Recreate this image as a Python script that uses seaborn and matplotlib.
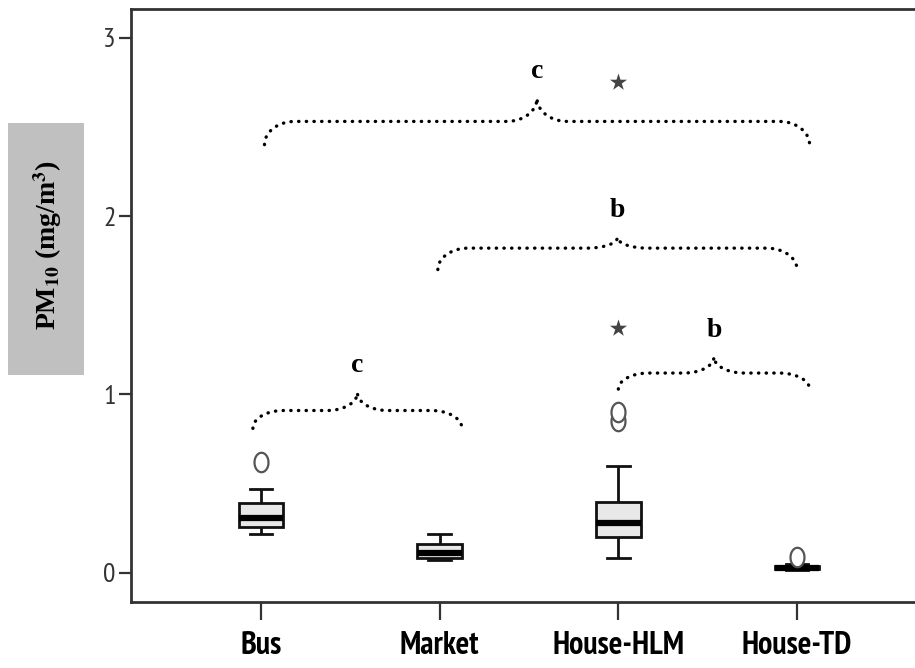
import numpy as np
import pandas as pd
import seaborn as sns
import matplotlib.pyplot as plt
from matplotlib.patches import Rectangle

plt.rcParams['mathtext.fontset'] = 'stix'
narrow = ["PT Sans Narrow", "Roboto Condensed", "DejaVu Sans"]

# 数据
categories = ["Bus", "Market", "House-HLM", "House-TD"]
bus = [0.22, 0.24, 0.26, 0.28, 0.31, 0.35, 0.39, 0.47, 0.62]
market = [0.07, 0.08, 0.085, 0.10, 0.11, 0.13, 0.16, 0.19, 0.22]
house_hlm = [0.085, 0.11, 0.14, 0.16, 0.18, 0.20, 0.21, 0.23, 0.25, 0.27, 0.28,
             0.30, 0.32, 0.35, 0.38, 0.40, 0.60, 0.85, 0.90, 1.37, 2.75]
house_td = [0.015, 0.018, 0.02, 0.025, 0.03, 0.035, 0.04, 0.05, 0.09]
yticks = [0, 1, 2, 3]

# 显著性括号：起止类别位置、端点/平直/顶点高度、字母
brace_x0 = [0.02, 0.99, 2.0, -0.045]
brace_x1 = [3.07, 3.0, 3.07, 1.125]
brace_end = [2.40, 1.70, 1.03, 0.81]
brace_flat = [2.53, 1.82, 1.12, 0.91]
brace_peak = [2.66, 1.88, 1.21, 1.01]
brace_letter = ["c", "b", "b", "c"]

groups = [bus, market, house_hlm, house_td]
df = pd.DataFrame({
    "PM10": sum(groups, []),
    "site": sum([[c] * len(g) for c, g in zip(categories, groups)], []),
})

# SPSS 风格：>1.5 IQR 为圆圈，>3 IQR 为星号
mild, extreme = [], []
for c, g in zip(categories, groups):
    q1, q3 = np.percentile(g, [25, 75])
    iqr = q3 - q1
    for v in g:
        if v > q3 + 3 * iqr or v < q1 - 3 * iqr:
            extreme.append((c, v))
        elif v > q3 + 1.5 * iqr or v < q1 - 1.5 * iqr:
            mild.append((c, v))
mild_df = pd.DataFrame(mild, columns=["site", "PM10"])
ext_df = pd.DataFrame(extreme, columns=["site", "PM10"])

fig = plt.figure(figsize=(9.15, 6.68), dpi=100)
ax = fig.add_axes([131 / 915, 66 / 668, 1 - 131 / 915, 593 / 668])

t = np.linspace(0, 2 * np.pi, 40)
oval = list(zip(0.72 * np.cos(t), np.sin(t)))

sns.boxplot(data=df, x="site", y="PM10", order=categories, width=0.25, showfliers=False,
            color="#e8e8e8", linewidth=2, ax=ax,
            boxprops=dict(edgecolor="#111111", linewidth=2),
            whiskerprops=dict(color="#111111", linewidth=2),
            capprops=dict(color="#111111", linewidth=2),
            medianprops=dict(color="#000000", linewidth=4.5))
sns.stripplot(data=mild_df, x="site", y="PM10", order=categories, jitter=False,
              marker=oval, size=14, color="white", edgecolor="#555555", linewidth=1.6, ax=ax, zorder=4)
sns.stripplot(data=ext_df, x="site", y="PM10", order=categories, jitter=False,
              marker="*", size=13, color="#444444", ax=ax, zorder=4)

# 画虚线花括号
def brace(x0, x1, ye, yf, yp, r=0.17):
    xc = (x0 + x1) / 2
    t = np.linspace(0, np.pi / 2, 20)
    xs = list(x0 + r - r * np.cos(t)) + list(xc - r + r * np.sin(t))
    ys = list(ye + (yf - ye) * np.sin(t)) + list(yp - (yp - yf) * np.cos(t))
    xs = xs + [2 * xc - x for x in xs[::-1]]
    ys = ys + ys[::-1]
    ax.plot(xs, ys, color="black", linestyle=(0, (0.1, 2.2)), lw=2.4,
            dash_capstyle="round", zorder=3)

for x0, x1, ye, yf, yp, lab in zip(brace_x0, brace_x1, brace_end, brace_flat, brace_peak, brace_letter):
    brace(x0, x1, ye, yf, yp)
    ax.text((x0 + x1) / 2, yp + 0.08, lab, ha="center", va="bottom",
            family="Liberation Serif", fontweight="bold", fontsize=20)

ax.set_xlim(-0.727, 3.66)
ax.set_ylim(-0.163, 3.16)
ax.set_yticks(yticks)
ax.set_xlabel("")
ax.set_ylabel("")
for s in ["left", "top", "bottom"]:
    ax.spines[s].set_linewidth(2)
    ax.spines[s].set_color("#333333")
ax.spines["right"].set_visible(False)
ax.tick_params(axis="y", length=9, width=1.6, color="#333333", labelcolor="#333333", pad=2)
ax.tick_params(axis="x", length=13, width=1.6, color="#333333", pad=8)
for lab in ax.get_xticklabels():
    lab.set_family(narrow)
    lab.set_stretch("condensed")
    lab.set_fontweight("bold")
    lab.set_fontsize(23)
for lab in ax.get_yticklabels():
    lab.set_family(narrow)
    lab.set_stretch("condensed")
    lab.set_fontsize(20)

# 灰色底的纵轴标题
fig.patches.append(Rectangle((8 / 915, 1 - 375 / 668), 76 / 915, 252 / 668,
                             transform=fig.transFigure, facecolor="#c0c0c0", edgecolor="none"))
fig.text(48 / 915, 1 - 245 / 668, r"PM$_{\mathbf{10}}$ (mg/m$^{\mathbf{3}}$)", rotation=90,
         ha="center", va="center", family="Liberation Serif", fontweight="bold", fontsize=20)

fig.savefig("out.png", dpi=100)
